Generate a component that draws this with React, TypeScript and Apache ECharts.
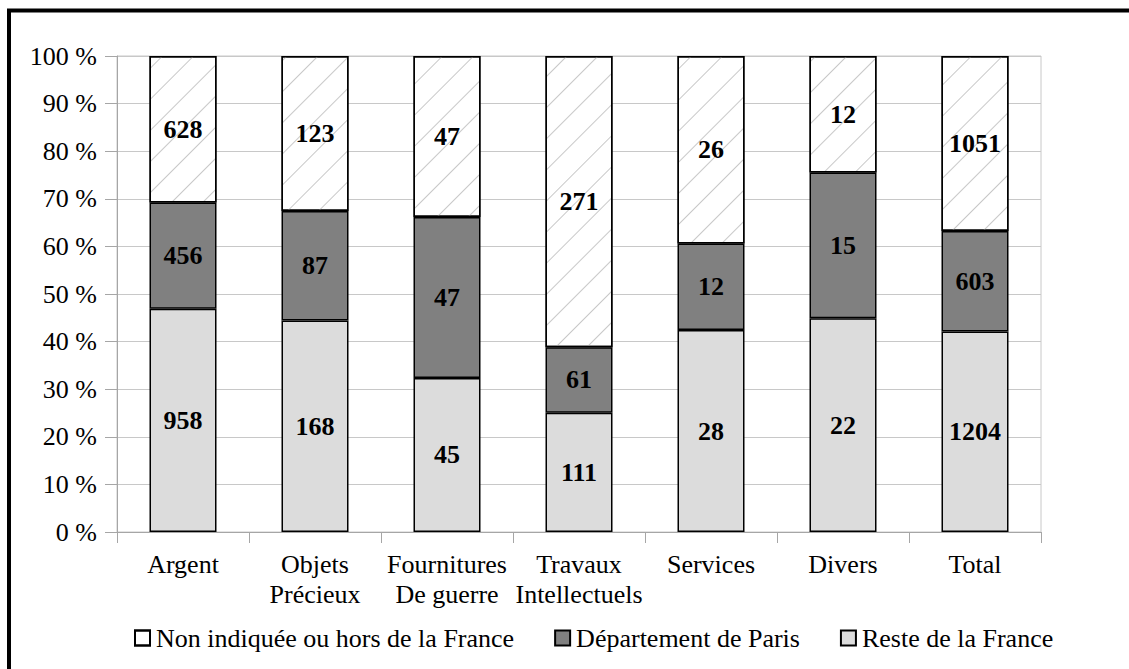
import React, { useEffect, useRef } from "react";
import * as echarts from "echarts";

const categories = [
  "Argent",
  "Objets\nPrécieux",
  "Fournitures\nDe guerre",
  "Travaux\nIntellectuels",
  "Services",
  "Divers",
  "Total",
];
const seriesNames = ["Non indiquée ou hors de la France", "Département de Paris", "Reste de la France"];
const nonIndiquee = [628, 123, 47, 271, 26, 12, 1051];
const paris = [456, 87, 47, 61, 12, 15, 603];
const reste = [958, 168, 45, 111, 28, 22, 1204];
const yTicks = [0, 10, 20, 30, 40, 50, 60, 70, 80, 90, 100];

const FONT = "Liberation Serif";

function pct(arr: number[]) {
  return arr.map((v, i) => (v / (nonIndiquee[i] + paris[i] + reste[i])) * 100);
}

export default function App() {
  const ref = useRef<HTMLDivElement>(null);
  useEffect(() => {
    if (!ref.current) return;
    const chart = echarts.init(ref.current, undefined, { renderer: "svg" });
    const label = (counts: number[]) => ({
      show: true,
      position: "inside",
      color: "#000",
      fontFamily: FONT,
      fontWeight: "bold",
      fontSize: 26,
      formatter: (p: any) => String(counts[p.dataIndex]),
    });
    chart.setOption({
      animation: false,
      backgroundColor: "#fff",
      textStyle: { fontFamily: FONT },
      graphic: [
        {
          type: "rect",
          shape: { x: 9, y: 10.5, width: 1300, height: 900 },
          style: { fill: "none", stroke: "#000", lineWidth: 4 },
          z: 100,
        },
      ],
      grid: {
        left: 117,
        top: 56,
        width: 924,
        height: 476,
        show: true,
        borderColor: "#c8c8c8",
        borderWidth: 1,
      },
      legend: {
        data: seriesNames,
        left: 134,
        top: 624,
        padding: 0,
        itemWidth: 15,
        itemHeight: 15,
        itemGap: 40,
        icon: "rect",
        textStyle: { fontFamily: FONT, fontSize: 26, color: "#000", padding: [0, 0, 0, 1], lineHeight: 28 },
      },
      xAxis: {
        type: "category",
        data: categories,
        axisLine: { lineStyle: { color: "#a6a6a6" } },
        axisTick: { show: true, length: 11, lineStyle: { color: "#a6a6a6" } },
        axisLabel: {
          color: "#000",
          fontFamily: FONT,
          fontSize: 26,
          lineHeight: 30,
          margin: 17,
          interval: 0,
        },
      },
      yAxis: {
        type: "value",
        min: 0,
        max: 100,
        interval: 10,
        axisLine: { show: true, lineStyle: { color: "#a6a6a6" } },
        axisTick: { show: true, length: 12, lineStyle: { color: "#a6a6a6" } },
        splitLine: { lineStyle: { color: "#c8c8c8" } },
        axisLabel: {
          color: "#000",
          fontFamily: FONT,
          fontSize: 26,
          margin: 20,
          formatter: (v: number) => (yTicks.includes(v) ? `${v} %` : ""),
        },
      },
      series: [
        {
          name: seriesNames[2],
          type: "bar",
          stack: "a",
          barWidth: 67,
          data: pct(reste),
          itemStyle: { color: "#dcdcdc", borderColor: "#000", borderWidth: 1.5 },
          label: label(reste),
        },
        {
          name: seriesNames[1],
          type: "bar",
          stack: "a",
          barWidth: 67,
          data: pct(paris),
          itemStyle: { color: "#808080", borderColor: "#000", borderWidth: 1.5 },
          label: label(paris),
        },
        {
          name: seriesNames[0],
          type: "bar",
          stack: "a",
          barWidth: 67,
          data: pct(nonIndiquee),
          itemStyle: {
            color: "#fff",
            borderColor: "#000",
            borderWidth: 1.5,
            decal: {
              symbol: "rect",
              symbolSize: 1,
              color: "#c8c8c8",
              dashArrayX: [1, 0],
              dashArrayY: [1, 21],
              rotation: -Math.PI / 4,
            },
          },
          label: label(nonIndiquee),
        },
      ],
    });
    return () => chart.dispose();
  }, []);
  return (
    <div
      ref={ref}
      style={{ position: "fixed", left: 0, top: 0, width: 1129, height: 669 }}
    />
  );
}
